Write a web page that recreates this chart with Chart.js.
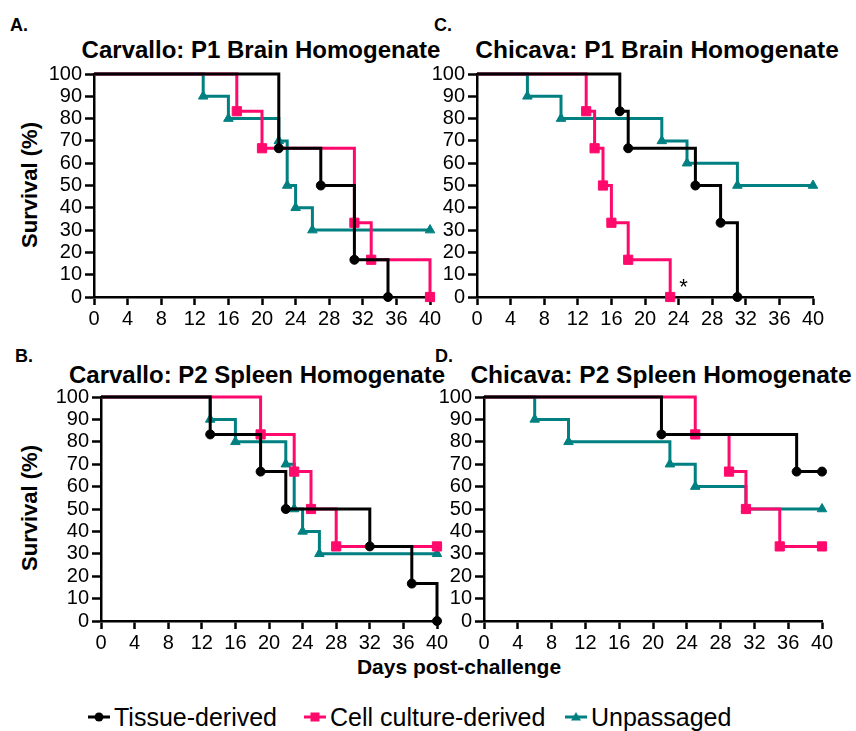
<!DOCTYPE html>
<html>
<head>
<meta charset="utf-8">
<script src="https://cdn.jsdelivr.net/npm/chart.js@4.4.0/dist/chart.umd.min.js"></script>
<style>
  body { margin: 0; background: #fff; width: 856px; height: 731px; position: relative; overflow: hidden;
         font-family: "Liberation Sans", Arial, sans-serif; color: #000; }
  canvas { position: absolute; }
  .t { position: absolute; white-space: nowrap; transform: translate(-50%, -50%); line-height: 1; }
  .b { font-weight: bold; }
</style>
</head>
<body>

<div class="t b" style="left:19px;top:25px;font-size:18px">A.</div>
<div class="t b" style="left:443px;top:25px;font-size:18px">C.</div>
<div class="t b" style="left:24px;top:356px;font-size:18px">B.</div>
<div class="t b" style="left:444px;top:356px;font-size:18px">D.</div>

<div class="t b" style="left:261px;top:50px;font-size:24px">Carvallo: P1 Brain Homogenate</div>
<div class="t b" style="left:657px;top:50px;font-size:24.5px">Chicava: P1 Brain Homogenate</div>
<div class="t b" style="left:257px;top:375px;font-size:24px">Carvallo: P2 Spleen Homogenate</div>
<div class="t b" style="left:661px;top:375px;font-size:24.5px">Chicava: P2 Spleen Homogenate</div>

<div class="t b" style="left:30px;top:185px;font-size:22px;transform:translate(-50%,-50%) rotate(-90deg)">Survival (%)</div>
<div class="t b" style="left:30px;top:508px;font-size:22px;transform:translate(-50%,-50%) rotate(-90deg)">Survival (%)</div>
<div class="t b" style="left:459px;top:666px;font-size:21px">Days post-challenge</div>

<div id="legend"></div>

<canvas id="pA"></canvas>
<canvas id="pC"></canvas>
<canvas id="pB"></canvas>
<canvas id="pD"></canvas>

<script>
// axis ticks
const xTicks = [0, 4, 8, 12, 16, 20, 24, 28, 32, 36, 40];
const yTicks = [0, 10, 20, 30, 40, 50, 60, 70, 80, 90, 100];

// A. Carvallo: P1 Brain Homogenate
const carP1TissueDays = [0, 22, 27, 31, 35];
const carP1TissueSurv = [100, 66.7, 50, 16.7, 0];
const carP1CellDays = [0, 17, 20, 31, 33, 40];
const carP1CellSurv = [100, 83.3, 66.7, 33.3, 16.7, 0];
const carP1UnpDays = [0, 13, 16, 22, 23, 24, 26, 40];
const carP1UnpSurv = [100, 90, 80, 70, 50, 40, 30, 30];

// C. Chicava: P1 Brain Homogenate
const chiP1TissueDays = [0, 17, 18, 26, 29, 31];
const chiP1TissueSurv = [100, 83.3, 66.7, 50, 33.3, 0];
const chiP1CellDays = [0, 13, 14, 15, 16, 18, 23];
const chiP1CellSurv = [100, 83.3, 66.7, 50, 33.3, 16.7, 0];
const chiP1UnpDays = [0, 6, 10, 22, 25, 31, 40];
const chiP1UnpSurv = [100, 90, 80, 70, 60, 50, 50];
const chiP1Note = { day: 24.6, surv: 4, text: '*' };

// B. Carvallo: P2 Spleen Homogenate
const carP2TissueDays = [0, 13, 19, 22, 32, 37, 40];
const carP2TissueSurv = [100, 83.3, 66.7, 50, 33.3, 16.7, 0];
const carP2CellDays = [0, 19, 23, 25, 28, 40];
const carP2CellSurv = [100, 83.3, 66.7, 50, 33.3, 33.3];
const carP2UnpDays = [0, 13, 16, 22, 23, 24, 26, 40];
const carP2UnpSurv = [100, 90, 80, 70, 50, 40, 30, 30];

// D. Chicava: P2 Spleen Homogenate
const chiP2TissueDays = [0, 21, 37, 40];
const chiP2TissueSurv = [100, 83.3, 66.7, 66.7];
const chiP2CellDays = [0, 25, 29, 31, 35, 40];
const chiP2CellSurv = [100, 83.3, 66.7, 50, 33.3, 33.3];
const chiP2UnpDays = [0, 6, 10, 22, 25, 31, 40];
const chiP2UnpSurv = [100, 90, 80, 70, 60, 50, 50];

const groups = ['Tissue-derived', 'Cell culture-derived', 'Unpassaged'];
const colors = ['#000000', '#FF0A6C', '#008080'];
const shapes = ['circle', 'rect', 'triangle'];
const radii = [4.5, 6.5, 5.5];

const FONT = '"Liberation Sans", Arial, sans-serif';
const YW = 54, XH = 43, PT = 14, PR = 16;

function series(days, surv, i) {
  return {
    label: groups[i],
    data: days.map((d, k) => ({ x: d, y: surv[k] })),
    stepped: 'before',
    borderColor: colors[i],
    backgroundColor: colors[i],
    borderWidth: 3,
    pointStyle: shapes[i],
    pointRadius: c => (c.dataIndex === 0 ? 0 : radii[i]),
    pointBorderWidth: 1,
    pointBorderColor: colors[i],
    pointBackgroundColor: colors[i],
    clip: false
  };
}

const notePlugin = {
  id: 'note',
  afterDatasetsDraw(chart) {
    const n = chart.options.plugins.note;
    if (!n || !n.text) return;
    const c = chart.ctx;
    c.save();
    c.fillStyle = '#000';
    c.font = '22px ' + FONT;
    c.textAlign = 'center';
    c.textBaseline = 'middle';
    c.fillText(n.text, chart.scales.x.getPixelForValue(n.day), chart.scales.y.getPixelForValue(n.surv));
    c.restore();
  }
};

function panel(id, plotX, plotY, plotW, plotH, sets, note) {
  const cv = document.getElementById(id);
  const w = YW + plotW + PR, h = PT + plotH + XH;
  cv.width = w; cv.height = h;
  cv.style.left = (plotX - YW) + 'px';
  cv.style.top = (plotY - PT) + 'px';
  const tickFont = { family: FONT, size: 20 };
  new Chart(cv, {
    type: 'line',
    data: { datasets: sets },
    plugins: [notePlugin],
    options: {
      responsive: false,
      animation: false,
      events: [],
      layout: { padding: { top: PT, right: PR, bottom: 0, left: 0 } },
      plugins: { legend: { display: false }, tooltip: { enabled: false }, note: note || {} },
      scales: {
        x: {
          type: 'linear', min: 0, max: 40,
          afterBuildTicks: s => { s.ticks = xTicks.map(v => ({ value: v })); },
          afterFit: s => { s.height = XH; },
          ticks: { color: '#000', font: tickFont, padding: 2, maxRotation: 0, autoSkip: false },
          grid: { drawOnChartArea: false, drawTicks: true, tickLength: 8, tickWidth: 2.5, tickColor: '#000' },
          border: { display: true, color: '#000', width: 2.5 }
        },
        y: {
          type: 'linear', min: 0, max: 100,
          afterBuildTicks: s => { s.ticks = yTicks.map(v => ({ value: v })); },
          afterFit: s => { s.width = YW; },
          ticks: { color: '#000', font: tickFont, padding: 3, autoSkip: false },
          grid: { drawOnChartArea: false, drawTicks: true, tickLength: 9, tickWidth: 2.5, tickColor: '#000' },
          border: { display: true, color: '#000', width: 2.5 }
        }
      }
    }
  });
}

panel('pA', 94, 73, 336, 224, [
  series(carP1TissueDays, carP1TissueSurv, 0),
  series(carP1CellDays, carP1CellSurv, 1),
  series(carP1UnpDays, carP1UnpSurv, 2)
]);
panel('pC', 477, 73, 336, 224, [
  series(chiP1TissueDays, chiP1TissueSurv, 0),
  series(chiP1CellDays, chiP1CellSurv, 1),
  series(chiP1UnpDays, chiP1UnpSurv, 2)
], chiP1Note);
panel('pB', 101, 396, 336, 225, [
  series(carP2TissueDays, carP2TissueSurv, 0),
  series(carP2CellDays, carP2CellSurv, 1),
  series(carP2UnpDays, carP2UnpSurv, 2)
]);
panel('pD', 484, 396, 338, 225, [
  series(chiP2TissueDays, chiP2TissueSurv, 0),
  series(chiP2CellDays, chiP2CellSurv, 1),
  series(chiP2UnpDays, chiP2UnpSurv, 2)
]);

// legend along the bottom
const legendX = [87, 303, 564];
const lg = document.getElementById('legend');
groups.forEach((g, i) => {
  const x = legendX[i];
  let mark;
  if (shapes[i] === 'circle') mark = '<circle cx="12" cy="10" r="4.5" fill="' + colors[i] + '"/>';
  else if (shapes[i] === 'rect') mark = '<rect x="7.5" y="5.5" width="9" height="9" fill="' + colors[i] + '"/>';
  else mark = '<polygon points="12,5 17,13.5 7,13.5" fill="' + colors[i] + '"/>';
  lg.insertAdjacentHTML('beforeend',
    '<svg style="position:absolute;left:' + x + 'px;top:707px" width="24" height="20">' +
    '<line x1="1" y1="10" x2="23" y2="10" stroke="' + colors[i] + '" stroke-width="3"/>' + mark + '</svg>' +
    '<div style="position:absolute;left:' + (x + 27) + 'px;top:717px;transform:translateY(-50%);font-size:25px;line-height:1;white-space:nowrap">' + g + '</div>');
});
</script>
</body>
</html>
